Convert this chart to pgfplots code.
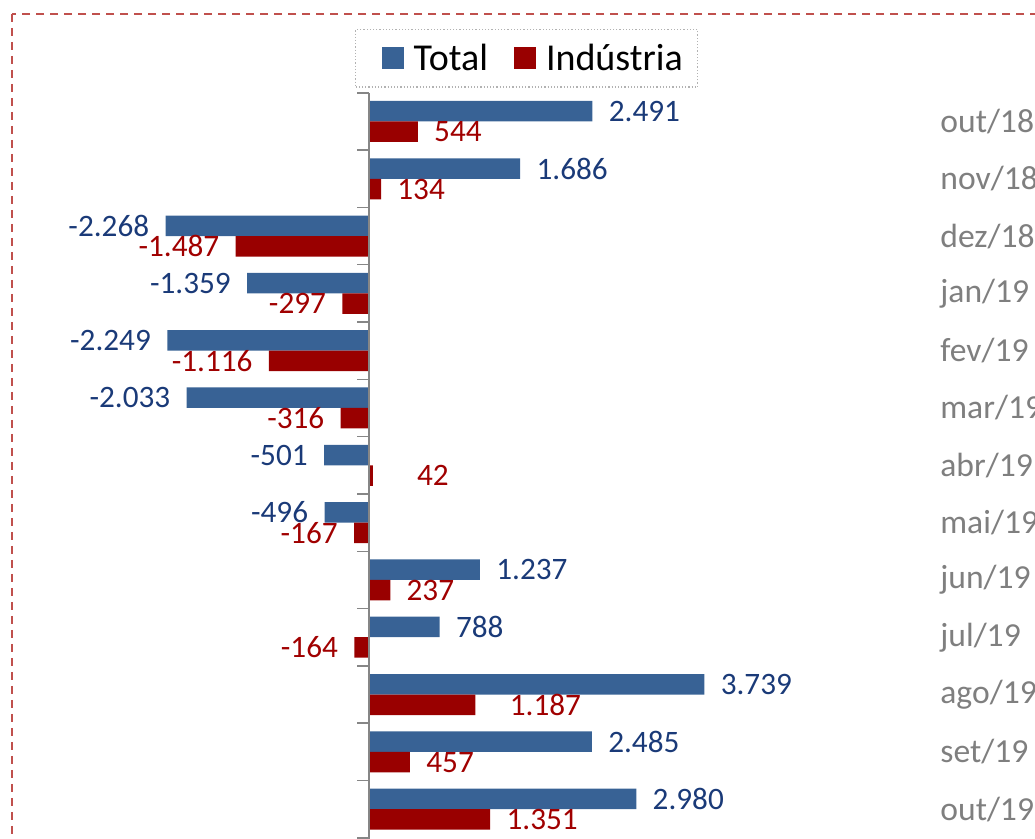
\documentclass[border=0pt]{standalone}
\usepackage{pgfplots}
\pgfplotsset{compat=1.18}
\usepackage{pgfplotstable}
\usepackage{fontspec}
\setmainfont{Carlito}
\definecolor{barblue}{HTML}{386295}
\definecolor{barred}{HTML}{990000}
\definecolor{lblblue}{HTML}{1A3A78}
\definecolor{lblred}{HTML}{A00000}
\definecolor{catgray}{HTML}{7F7F7F}
\definecolor{borderred}{HTML}{C0504D}
\definecolor{axgray}{HTML}{868686}

\pgfplotstableread{
idx total ind
0 2491 544
1 1686 134
2 -2268 -1487
3 -1359 -297
4 -2249 -1116
5 -2033 -316
6 -501 42
7 -496 -167
8 1237 237
9 788 -164
10 3739 1187
11 2485 457
12 2980 1351
}\datatable

\pgfplotsset{sqlegend/.style={legend image code/.code={\path (-8pt,0pt) (13.5pt,0pt);\fill[##1] (0pt,-5.5pt) rectangle (11pt,5.5pt);}}}
\tikzset{lblfont/.style={font=\fontsize{15.6}{18}\selectfont, inner xsep=8pt}}

\begin{document}
\begin{tikzpicture}
\useasboundingbox (0,0) rectangle (517.5pt,-419.5pt);
\draw[borderred, line width=1pt, dash pattern=on 4pt off 3pt] (6pt,-7pt) rectangle (540pt,-440pt);
\begin{axis}[
  at={(13.5pt,-46.4pt)}, anchor=north west,
  scale only axis, width=456.5pt, height=372.5pt,
  xmin=-3813, xmax=6366, ymin=-0.5, ymax=12.5, y dir=reverse,
  hide x axis,
  axis line style={draw=none},
  ytick={0,...,12},
  yticklabels={out/18,nov/18,dez/18,jan/19,fev/19,mar/19,abr/19,mai/19,jun/19,jul/19,ago/19,set/19,out/19},
  yticklabel pos=right,
  major tick length=0pt,
  yticklabel style={anchor=west, inner xsep=0pt, font=\fontsize{16.8}{19}\selectfont, text=catgray},
  clip=false,
  xbar, bar width=10.25pt,
  point meta=x,
  nodes near coords={\pgfmathprintnumber[assume math mode=true, fixed, precision=0, 1000 sep={.}]{\pgfplotspointmeta}},
  nodes near coords align=horizontal,
  legend style={at={(0.3593,1.0856)}, anchor=north west, draw=gray!60, densely dotted, line width=0.6pt,
    font=\fontsize{19}{22}\selectfont, inner xsep=5pt, inner ysep=5pt,
    nodes={inner xsep=2.5pt, inner ysep=2pt},
    /tikz/every even column/.append style={column sep=2.5pt}},
  legend columns=2,
]
\addplot[xbar, fill=barblue, draw=none, bar shift=5.125pt, sqlegend,
  nodes near coords style={text=lblblue, lblfont}]
  table[x=total, y=idx] {\datatable};
\addlegendentry{Total}
\addplot[xbar, fill=barred, draw=none, bar shift=-5.125pt, sqlegend,
  nodes near coords={}]
  table[x=ind, y=idx] {\datatable};
\addlegendentry{Indústria}
% labels of the Industria series (regular offset)
\addplot[xbar, fill=none, draw=none, bar shift=-5.125pt, forget plot,
  x filter/.expression={(\coordindex==6 || \coordindex==10) ? nan : x},
  nodes near coords style={text=lblred, lblfont}]
  table[x=ind, y=idx] {\datatable};
% labels of the Industria series that were moved further right in the reference
\addplot[xbar, fill=none, draw=none, bar shift=-5.125pt, forget plot,
  x filter/.expression={(\coordindex==6) ? x : nan},
  nodes near coords style={text=lblred, lblfont, inner xsep=0pt, xshift=22pt}]
  table[x=ind, y=idx] {\datatable};
\addplot[xbar, fill=none, draw=none, bar shift=-5.125pt, forget plot,
  x filter/.expression={(\coordindex==10) ? x : nan},
  nodes near coords style={text=lblred, lblfont, inner xsep=0pt, xshift=17pt}]
  table[x=ind, y=idx] {\datatable};
\draw[axgray, line width=0.75pt] (axis cs:0,-0.5) -- (axis cs:0,13.5);
\pgfplotsinvokeforeach{-0.5,0.5,1.5,2.5,3.5,4.5,5.5,6.5,7.5,8.5,9.5,10.5,11.5,12.5}{
  \draw[axgray, line width=0.75pt] (axis cs:0,#1) -- ++(-6pt,0pt);
}
\end{axis}
\end{tikzpicture}
\end{document}
